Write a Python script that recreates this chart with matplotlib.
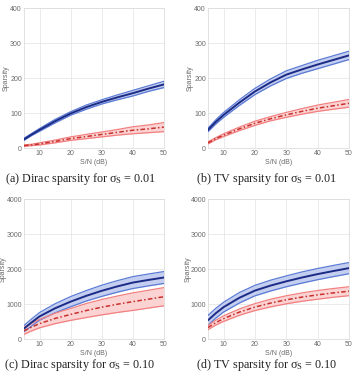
import matplotlib
matplotlib.use("Agg")
import matplotlib.pyplot as plt
import numpy as np

snr = [5, 7.5, 10, 15, 20, 25, 30, 35, 40, 45, 50]

# (a) Dirac sparsity, sigma_S = 0.01  (mean and half-width of band)
a_blue = [25, 39, 52, 77, 99, 117, 132, 145, 157, 170, 182]
a_blue_sd = [3, 3, 4, 5, 5, 6, 6, 7, 8, 8, 9]
a_red = [7, 9, 12, 19, 27, 33, 39, 45, 51, 55, 60]
a_red_sd = [2, 2, 3, 4, 5, 6, 7, 8, 10, 11, 13]

# (b) TV sparsity, sigma_S = 0.01
b_blue = [52, 75, 95, 130, 162, 188, 210, 225, 239, 252, 265]
b_blue_sd = [5, 6, 7, 8, 9, 10, 11, 11, 12, 12, 12]
b_red = [15, 27, 37, 55, 71, 84, 95, 105, 114, 121, 128]
b_red_sd = [3, 3, 4, 5, 6, 6, 7, 8, 9, 10, 11]

# (c) Dirac sparsity, sigma_S = 0.10
c_blue = [300, 480, 648, 880, 1070, 1235, 1380, 1505, 1615, 1690, 1760]
c_blue_sd = [90, 100, 110, 130, 145, 150, 160, 165, 170, 170, 170]
c_red = [235, 345, 441, 590, 704, 815, 911, 995, 1070, 1140, 1211]
c_red_sd = [100, 110, 120, 150, 170, 200, 220, 235, 250, 255, 260]

# (d) TV sparsity, sigma_S = 0.10
d_blue = [538, 740, 915, 1180, 1387, 1530, 1651, 1760, 1858, 1945, 2028]
d_blue_sd = [140, 140, 140, 150, 150, 155, 155, 160, 160, 160, 160]
d_red = [330, 470, 585, 770, 915, 1030, 1123, 1200, 1264, 1320, 1368]
d_red_sd = [60, 70, 80, 90, 100, 110, 115, 120, 125, 125, 128]

x_ticks = [10, 20, 30, 40, 50]
y_ticks_small = [0, 100, 200, 300, 400]
y_ticks_large = [0, 1000, 2000, 3000, 4000]

captions = [
    r"(a) Dirac sparsity for $\sigma_S$ = 0.01",
    r"(b) TV sparsity for $\sigma_S$ = 0.01",
    r"(c) Dirac sparsity for $\sigma_S$ = 0.10",
    r"(d) TV sparsity for $\sigma_S$ = 0.10",
]

panels = [
    (a_blue, a_blue_sd, a_red, a_red_sd, 400, y_ticks_small),
    (b_blue, b_blue_sd, b_red, b_red_sd, 400, y_ticks_small),
    (c_blue, c_blue_sd, c_red, c_red_sd, 4000, y_ticks_large),
    (d_blue, d_blue_sd, d_red, d_red_sd, 4000, y_ticks_large),
]

positions = [
    (0.0676, 0.603, 0.394, 0.375),
    (0.586, 0.603, 0.397, 0.375),
    (0.0676, 0.091, 0.394, 0.375),
    (0.586, 0.091, 0.397, 0.375),
]
ylabel_x = [-0.105, -0.10, -0.125, -0.117]
cap_pos = [(0.226, 0.513), (0.752, 0.513), (0.226, 0.013), (0.752, 0.013)]

plt.rcParams['mathtext.fontset'] = 'custom'
plt.rcParams['mathtext.rm'] = 'Liberation Serif'
plt.rcParams['mathtext.it'] = 'Liberation Serif'

fig = plt.figure(figsize=(3.55, 3.73), dpi=100)
fig.patch.set_facecolor("white")

grey = "#6a6a6a"
for (bl, bsd, rd, rsd, ymax, yt), pos, cap, cp, ylx in zip(panels, positions, captions, cap_pos, ylabel_x):
    ax = fig.add_axes(pos)
    bl = np.array(bl); bsd = np.array(bsd); rd = np.array(rd); rsd = np.array(rsd)
    ax.fill_between(snr, bl - bsd, bl + bsd, color="#c3cef0", lw=0, zorder=2)
    ax.plot(snr, bl - bsd, color="#5b7bd5", lw=0.9, zorder=3)
    ax.plot(snr, bl + bsd, color="#5b7bd5", lw=0.9, zorder=3)
    ax.plot(snr, bl, color="#1c2b86", lw=1.4, zorder=4)
    ax.fill_between(snr, rd - rsd, rd + rsd, color="#fbd3d3", lw=0, zorder=2)
    ax.plot(snr, rd - rsd, color="#f28080", lw=0.9, zorder=3)
    ax.plot(snr, rd + rsd, color="#f28080", lw=0.9, zorder=3)
    ax.plot(snr, rd, color="#c8302c", lw=1.1, ls=(0, (3, 1.5, 1, 1.5)), zorder=4)
    ax.set_xlim(5, 50)
    ax.set_ylim(0, ymax)
    ax.set_xticks(x_ticks)
    ax.set_yticks(yt)
    ax.grid(True, color="#e8e8e8", lw=0.6, zorder=0)
    ax.set_axisbelow(True)
    for s in ax.spines.values():
        s.set_color("#dddddd")
        s.set_linewidth(0.6)
    ax.tick_params(length=0, labelsize=5, colors=grey, pad=1.5)
    for lab in ax.get_xticklabels() + ax.get_yticklabels():
        lab.set_family("Liberation Sans")
    ax.set_xlabel("S/N (dB)", fontsize=5, color=grey, labelpad=1, family="Liberation Sans")
    ax.set_ylabel("Sparsity", fontsize=5, color=grey, family="Liberation Sans")
    ax.yaxis.set_label_coords(ylx, 0.5)
    fig.text(cp[0], cp[1], cap, ha="center", va="baseline",
             fontsize=8.7, family="Liberation Serif", color="#222222")

fig.savefig("out.png", dpi=100, facecolor="white")
